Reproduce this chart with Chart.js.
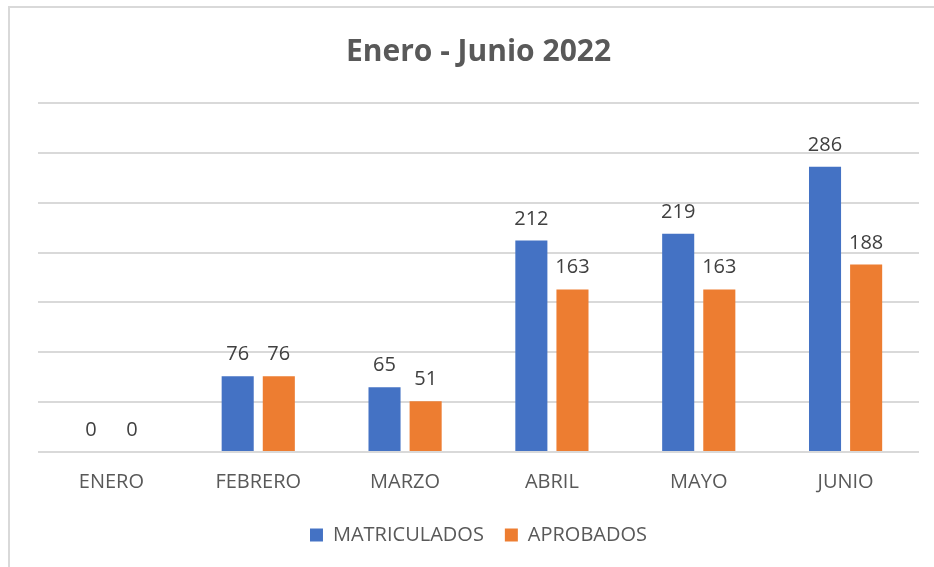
<!DOCTYPE html>
<html lang="es">
<head>
    <meta charset="UTF-8">
    <title>Enero - Junio 2022</title>
    <script src="https://cdn.jsdelivr.net/npm/chart.js"></script>
    <style>
        html, body { margin: 0; padding: 0; background: #fff; }
        #wrap { position: relative; width: 934px; height: 567px; }
        #frame {
            position: absolute; left: 8px; top: 6px; right: 0; bottom: 0;
            border-left: 2px solid #d9d9d9; border-top: 2px solid #d9d9d9;
            pointer-events: none;
        }
    </style>
</head>
<body>
    <div id="wrap">
        <canvas id="chart" width="934" height="567"></canvas>
        <div id="frame"></div>
    </div>

    <script>
        // datos
        const meses = ['ENERO', 'FEBRERO', 'MARZO', 'ABRIL', 'MAYO', 'JUNIO'];
        const matriculados = [0, 76, 65, 212, 219, 286];
        const aprobados = [0, 76, 51, 163, 163, 188];

        const FONT = '"Open Sans", "Noto Sans", sans-serif';

        // etiquetas de valor encima de cada barra
        const valueLabels = {
            id: 'valueLabels',
            afterDatasetsDraw(chart) {
                const ctx = chart.ctx;
                ctx.save();
                ctx.font = '20px ' + FONT;
                ctx.fillStyle = '#404040';
                ctx.textAlign = 'center';
                ctx.textBaseline = 'alphabetic';
                chart.data.datasets.forEach((ds, i) => {
                    chart.getDatasetMeta(i).data.forEach((bar, j) => {
                        ctx.fillText(ds.data[j], bar.x, bar.y - 16);
                    });
                });
                ctx.restore();
            }
        };

        new Chart(document.getElementById('chart'), {
            type: 'bar',
            data: {
                labels: meses,
                datasets: [
                    { label: 'MATRICULADOS', data: matriculados, backgroundColor: '#4472c4' },
                    { label: 'APROBADOS', data: aprobados, backgroundColor: '#ed7d31' }
                ]
            },
            options: {
                responsive: false,
                animation: false,
                devicePixelRatio: 1,
                categoryPercentage: 0.56,
                barPercentage: 0.78,
                layout: { padding: { left: 38, right: 15, top: 10, bottom: 12 } },
                plugins: {
                    title: {
                        display: true,
                        text: 'Enero - Junio 2022',
                        color: '#595959',
                        font: { family: FONT, size: 30, weight: 'bold' },
                        padding: { top: 24, bottom: 33 }
                    },
                    legend: {
                        position: 'bottom',
                        labels: {
                            color: '#595959',
                            font: { family: FONT, size: 20 },
                            boxWidth: 13,
                            boxHeight: 13,
                            padding: 21
                        }
                    },
                    tooltip: { enabled: false }
                },
                scales: {
                    x: {
                        grid: { display: false },
                        border: { display: false },
                        ticks: { color: '#595959', font: { family: FONT, size: 20 }, padding: 10 }
                    },
                    y: {
                        min: 0,
                        max: 350,
                        ticks: { display: false, stepSize: 50 },
                        border: { display: false },
                        grid: { color: '#d9d9d9', lineWidth: 2, drawTicks: false }
                    }
                }
            },
            plugins: [valueLabels]
        });
    </script>
</body>
</html>
